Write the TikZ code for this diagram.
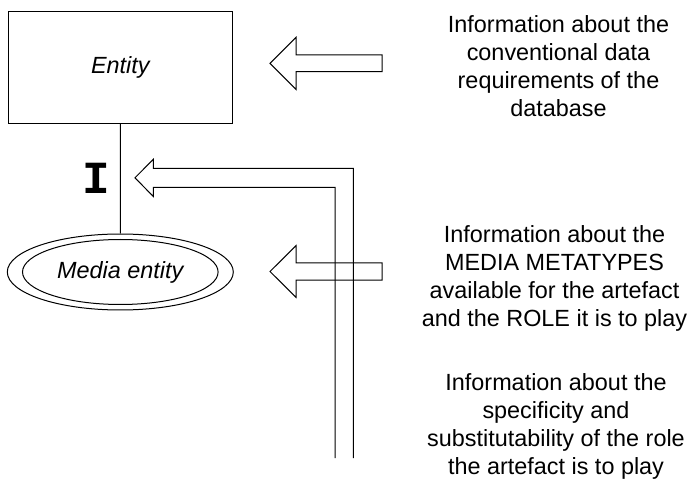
\documentclass[tikz,border=0pt]{standalone}
\usepackage{fontspec}
\setmainfont{Liberation Sans}
\setmonofont{Liberation Mono}
\usetikzlibrary{shapes.geometric}
\begin{document}
\begin{tikzpicture}[x=1pt,y=-1pt,line width=1pt,
  txt/.style={font=\fontsize{23.4}{28}\selectfont, align=center, inner sep=0pt},
  blk/.style={draw=black, line width=1pt, line join=miter},
  lab/.style={font=\fontsize{23.4}{28}\selectfont\itshape, inner sep=0pt}]
\useasboundingbox (0,0) rectangle (694,481);
\fill[white] (0,0) rectangle (694,481);

% Entity box
\node[blk, lab, minimum width=224.7pt, minimum height=112.3pt] (entity) at (120.35,67.2) {Entity};

% Media entity (double ellipse)
\node[blk, lab, ellipse, minimum width=226pt, minimum height=76pt] (media) at (120.3,272) {Media entity};
\draw[blk] (media.center) ellipse [x radius=97.8, y radius=32.5];

% relationship line
\draw[blk] (entity.south) -- (media.north);

% I label
\node[font=\ttfamily\bfseries\fontsize{46}{46}\selectfont, inner sep=0pt] (ilabel) at (96.5,178.5) {I};

% top block arrow
\coordinate (a1) at (270,63.3);
\draw[blk] (a1) -- ++(26,-26) -- ++(0,17.65) -- (382,55) -- (382,71.7) -- (296,71.7) -- (296,89.3) -- cycle;

% middle block arrow
\coordinate (a2) at (270,271.5);
\draw[blk] (a2) -- (296,245.7) -- (296,262.9) -- (382,262.9) -- (382,280.1) -- (296,280.1) -- (296,297.3) -- cycle;

% bent block arrow
\coordinate (a3) at (135,177.8);
\draw[blk] (353.3,458) -- (353.3,168.3) -- (153.3,168.3) -- (153.3,159.3) -- (a3)
  -- (153.3,196.5) -- (153.3,187.3) -- (335,187.3) -- (335,458);

% texts
\node[txt] (t1) at (558.5,66.5) {Information about the\\conventional data\\requirements of the\\database};
\node[txt] (t2) at (554.5,278) {Information about the\\MEDIA METATYPES\\available for the artefact\\and the ROLE it is to play};
\node[txt] (t3) at (556,426.5) {Information about the\\specificity and\\substitutability of the role\\the artefact is to play};
\end{tikzpicture}
\end{document}
